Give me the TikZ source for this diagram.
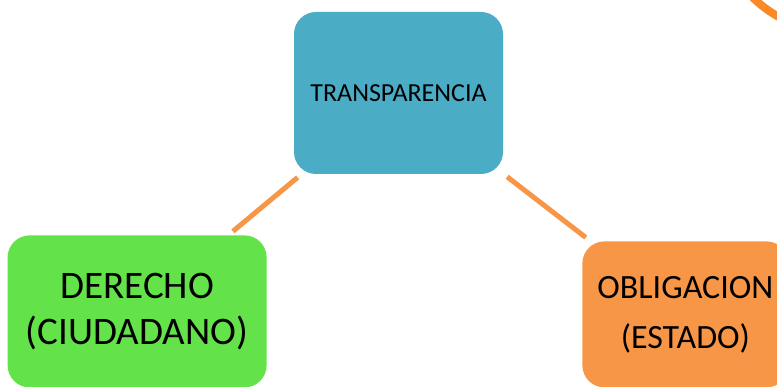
\documentclass[tikz,border=0pt]{standalone}
\usepackage{fontspec}
\setmainfont{Carlito}
\usetikzlibrary{shapes.geometric, arrows, positioning}
\definecolor{aqua}{RGB}{75,172,198}
\definecolor{grass}{RGB}{99,226,74}
\definecolor{peach}{RGB}{247,150,70}
\definecolor{flame}{RGB}{250,138,38}
\tikzstyle{block} = [rectangle, 
			rounded corners = 22pt, 
			text centered, 
			align = center, 
			inner sep = 0pt]
\tikzstyle{line} = [draw, peach, line width = 5pt, 
			shorten < = 5pt, 
			shorten > = 6pt]
\begin{document}
\begin{tikzpicture}[x = 1pt, y = 1pt, node distance = 3em, auto]
	\useasboundingbox (0,0) rectangle (777,386);
	\node [block, fill = aqua, minimum width = 209pt, minimum height = 162pt,
		font = \fontsize{26}{31}\selectfont] (transp) at (398.5,293) {TRANSPARENCIA};
	\node [block, fill = grass, minimum width = 259pt, minimum height = 152pt,
		font = \fontsize{39}{46}\selectfont,
		below left = 61pt and 27pt of transp] (derecho) {DERECHO\\(CIUDADANO)};
	\path [line] (transp) -- (derecho);
	\node [block, fill = peach, minimum width = 206pt, minimum height = 146pt,
		font = \fontsize{34}{50}\selectfont,
		below right = 67pt and 79pt of transp] (obligacion) {OBLIGACION\\(ESTADO)};
	\path [line] (transp) -- (obligacion);
	% piece of a ring cut by the top right edge
	\draw [flame, line width = 8pt] (837,474) circle (120);
\end{tikzpicture}
\end{document}
